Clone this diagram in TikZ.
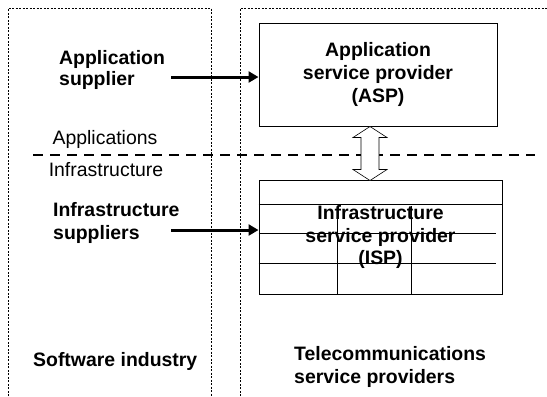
\documentclass[tikz,border=0pt]{standalone}
\usepackage{fontspec}
\setmainfont{Liberation Sans}
\usetikzlibrary{arrows.meta,positioning,calc}
\newcommand{\DiagFont}{\fontsize{19.5}{23}\selectfont}
\tikzset{
  provider/.style={draw=black,line width=1bp,minimum width=238bp,minimum height=103bp,align=center,font=\DiagFont\bfseries,inner sep=0pt},
  supplier/.style={anchor=west,align=left,font=\DiagFont\bfseries,inner sep=0pt},
  layer/.style={font=\DiagFont,inner sep=0pt},
  arr/.style={-{Triangle[length=10bp,width=11bp]},line width=3bp},
  frame/.style={line width=0.8bp,dash pattern=on 2bp off 1.5bp},
  boundary/.style={line width=2.5bp,dash pattern=on 10bp off 7bp},
  cell/.style={line width=1bp},
  shaft/.style={draw=black,line width=0.6bp,fill=white}
}
\begin{document}
\begin{tikzpicture}[x=1bp,y=-1bp]
  \useasboundingbox (0,0) rectangle (547,396);

  % industry frames
  \draw[frame] (8,396) |- (211,8) -- (211,396);
  \draw[frame] (240,396) |- (547,8);

  % layer boundary
  \draw[boundary] (33,155) -- (535,155);
  \node[layer] (apps) at (105,139) {Applications};
  \node[layer] (infra) at (106,170) {Infrastructure};

  % providers
  \node[provider] (asp) at (378,74.5) {Application\\service provider\\(ASP)};
  \node[provider,minimum width=243bp,minimum height=114bp] (isp) at (380.5,237)
    {Infrastructure\\service provider\\(ISP)};
  \draw[cell] ($(isp.north west)+(0,25)$) -- ($(isp.north east)+(0,25)$);
  \draw[cell] ($(isp.north west)+(0,54)$) -- ++(237,0);
  \draw[cell] ($(isp.north west)+(0,84)$) -- ++(237,0);
  \draw[cell] ($(isp.south west)+(79,0)$) -- ++(0,-89);
  \draw[cell] ($(isp.south west)+(153,0)$) -- ++(0,-89);

  \draw[shaft] ($(asp.south)+(-8,0)$) -- ++(17,11) -- ++(-8,0) -- ++(0,32)
    -- ++(8,0) -- ++(-17,11) -- ++(-17,-11) -- ++(8,0) -- ++(0,-32)
    -- ++(-8,0) -- cycle;

  % suppliers
  \node[supplier,font=\fontsize{19.5}{21}\selectfont\bfseries] (appsup) at (59,70) {Application\\supplier};
  \node[supplier] (infsup) at (53,223) {Infrastructure\\suppliers};
  \coordinate (appfeed) at (171,77);
  \coordinate (infrafeed) at (171,230);
  \draw[arr] (appfeed) -- (appfeed -| asp.west);
  \draw[arr] (infrafeed) -- (infrafeed -| isp.west);

  \node[supplier] (swind) at (33,361) {Software industry};
  \node[supplier] (telco) at (294,367) {Telecommunications\\service providers};
\end{tikzpicture}
\end{document}
